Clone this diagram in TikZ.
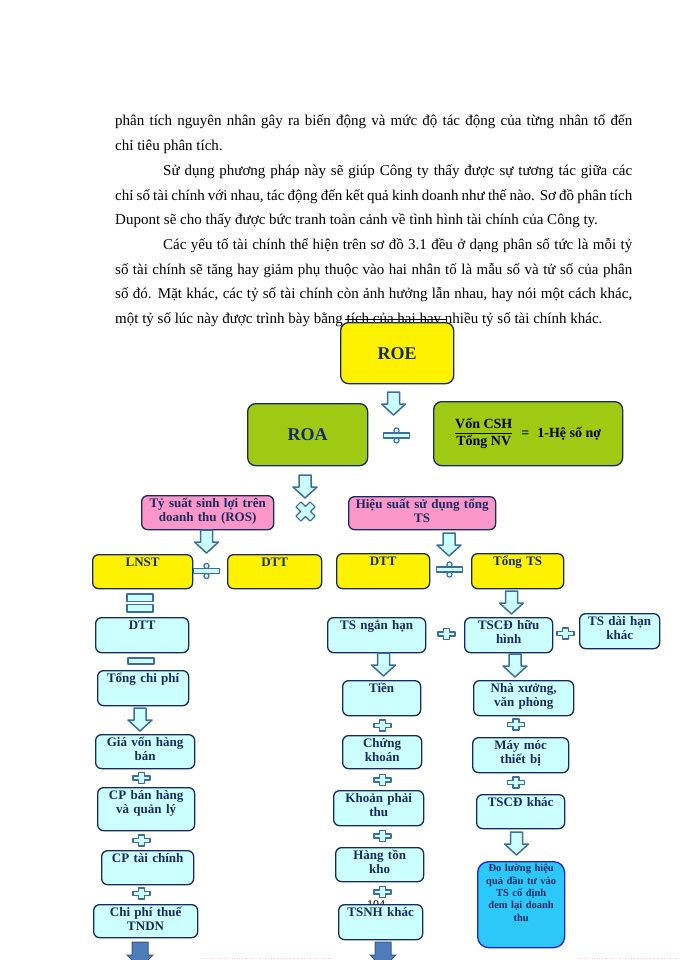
\documentclass[tikz,border=0pt]{standalone}
\usepackage{fontspec}
\setmainfont{Liberation Serif}
\usetikzlibrary{positioning}
\definecolor{navy}{RGB}{25,42,96}
\definecolor{steel}{RGB}{62,108,158}
\definecolor{icecyan}{RGB}{204,255,255}
\definecolor{roagreen}{RGB}{158,202,20}
\definecolor{pinkbox}{RGB}{250,150,200}
\definecolor{skyfill}{RGB}{45,200,250}
\definecolor{deepblue}{RGB}{30,30,225}
\definecolor{darkarrow}{RGB}{79,125,185}
\definecolor{darksteel}{RGB}{55,90,140}
\definecolor{faintpink}{RGB}{250,200,230}
\tikzset{
  frame/.style={draw=navy,line width=1.3pt,rounded corners=6pt,anchor=north west},
  box/.style={frame,inner xsep=2pt,inner ysep=0pt,align=center,text=navy,
    font=\fontsize{13}{14}\selectfont\bfseries,text height=12pt},
  ybox/.style={box,fill=yellow},
  pbox/.style={box,fill=pinkbox},
  cbox/.style={box,fill=icecyan},
  sz/.code 2 args={\pgfmathsetmacro\bxw{#1-4}\pgfmathsetmacro\bxd{#2-12}%
    \tikzset{text width=\bxw pt,text depth=\bxd pt}},
  sign/.style={draw=steel,fill=icecyan,line width=1.2pt,line join=round},
  pics/plus/.style={code={\draw[sign] (-3,-5.5)--(3,-5.5)--(3,-2)--(8.5,-2)--(8.5,2)--(3,2)
    --(3,5.5)--(-3,5.5)--(-3,2)--(-8.5,2)--(-8.5,-2)--(-3,-2)--cycle;}},
  pics/minus/.style={code={\draw[sign] (-13,-3) rectangle (13,3);}},
  pics/equal/.style={code={\draw[sign] (-13,-9) rectangle (13,-1.5);
    \draw[sign] (-13,1.5) rectangle (13,9);}},
  pics/divide/.style={code={\draw[sign] (0,-5) circle (2.6pt);\draw[sign] (0,5) circle (2.6pt);
    \draw[sign] (-13,-2.5) rectangle (13,2.5);}},
  pics/times/.style={code={\draw[sign,rotate=45] (-3.5,-10)--(3.5,-10)--(3.5,-3.5)--(10,-3.5)
    --(10,3.5)--(3.5,3.5)--(3.5,10)--(-3.5,10)--(-3.5,3.5)--(-10,3.5)--(-10,-3.5)--(-3.5,-3.5)--cycle;}},
  pics/darr/.style={code={\draw[sign,line width=1.5pt] (-6,0)--(6,0)--(6,12)--(12,12)--(0,23)
    --(-12,12)--(-6,12)--cycle;}},
  pics/dkarr/.style={code={\draw[draw=darksteel,fill=darkarrow,line width=1pt] (-8,0)--(8,0)
    --(8,13)--(13,13)--(0,26)--(-13,13)--(-8,13)--cycle;}},
}
\begin{document}
\begin{tikzpicture}[x=1pt,y=-1pt]
\useasboundingbox (0,0) rectangle (700,960);
\fill[white] (0,0) rectangle (700,960);
\clip (0,0) rectangle (700,960);
% body text above the chart
\node [name=para,anchor=base west,inner sep=0pt,font=\fontsize{15}{24.7}\selectfont] at (115,126){\vtop{%
\hbox to 517pt{phân tích nguyên nhân gây ra biến động và mức độ tác động của từng nhân tố đến}
\hbox to 517pt{chỉ tiêu phân tích.\hfil}
\hbox to 517pt{\kern48pt Sử dụng phương pháp này sẽ giúp Công ty thấy được sự tương tác giữa các}
\hbox to 517pt{chỉ số tài chính với nhau, tác động đến kết quả kinh doanh như thế nào. Sơ đồ phân tích}
\hbox to 517pt{Dupont sẽ cho thấy được bức tranh toàn cảnh về tình hình tài chính của Công ty.\hfil}
\hbox to 517pt{\kern48pt Các yếu tố tài chính thể hiện trên sơ đồ 3.1 đều ở dạng phân số tức là mỗi tỷ}
\hbox to 517pt{số tài chính sẽ tăng hay giảm phụ thuộc vào hai nhân tố là mẫu số và tử số của phân}
\hbox to 517pt{số đó. Mặt khác, các tỷ số tài chính còn ảnh hưởng lẫn nhau, hay nói một cách khác,}
\hbox to 517pt{một tỷ số lúc này được trình bày bằng tích của hai hay nhiều tỷ số tài chính khác.\hfil}}};
\draw[line width=0.7pt] (345,319.5)--(447,319.5);
\node [name=pgno,anchor=base,font=\fontsize{12}{12}\selectfont] at (376,908){104};
% top level
\node [frame,name=roe,fill=yellow,minimum width=113pt,minimum height=61pt,rounded corners=8pt,text=navy,font=\fontsize{18}{18}\selectfont\bfseries] at (340,322){ROE};
\node [frame,name=roa,fill=roagreen,minimum width=120pt,minimum height=62pt,rounded corners=8pt,text=navy,font=\fontsize{18}{18}\selectfont\bfseries] at (247,403){ROA};
\node [frame,name=vcsh,fill=roagreen,minimum width=189pt,minimum height=64pt,rounded corners=8pt,font=\fontsize{14}{16}\selectfont\bfseries] at (433,401){%
\setlength\arrayrulewidth{1pt}\begin{tabular}{@{}c@{}}Vốn CSH\\\hline Tổng NV\end{tabular}\hspace{9pt}=\hspace{8pt}1-Hệ số nợ\hspace{8pt}};
\node [pbox,name=ros,sz={132}{34}] at (141,495){Tỷ suất sinh lợi trên\\doanh thu (ROS)};
\node [pbox,name=hsts,sz={147}{33}] at (348,496){Hiệu suất sử dụng tổng\\TS};
\node [ybox,name=lnst,sz={100}{34}] at (92,554){LNST};
\node [ybox,name=dtta,sz={94}{34}] at (227,554){DTT};
\node [ybox,name=dttb,sz={93}{35}] at (336,553){DTT};
\node [ybox,name=tongts,sz={92}{35}] at (471,553){Tổng TS};
% left column
\node [cbox,name=dttc,sz={93}{35}] at (95,617){DTT};
\node [cbox,name=tongcp,sz={91}{35}] at (97,670){Tổng chi phí};
\node [cbox,name=gvhb,sz={99}{34}] at (95,734){Giá vốn hàng\\bán};
\node [cbox,name=cpbh,sz={97}{43}] at (97,787){CP bán hàng\\và quản lý};
\node [cbox,name=cptc,sz={92}{34}] at (101,850){CP tài chính};
\node [cbox,name=thue,sz={104}{33}] at (93,904){Chi phí thuế\\TNDN};
% middle column
\node [cbox,name=tsnh,sz={98}{35}] at (327,617){TS ngắn hạn};
\node [cbox,name=tien,sz={78}{35}] at (342,680){Tiền};
\node [cbox,name=ck,sz={79}{33}] at (342,735){Chứng\\khoán};
\node [cbox,name=kpt,sz={90}{35}] at (333,790){Khoản phải\\thu};
\node [cbox,name=htk,sz={88}{34}] at (335,847){Hàng tồn\\kho};
\node [cbox,name=tsnhk,sz={84}{35}] at (338,904){TSNH khác};
% right column
\node [cbox,name=tscd,sz={88}{35}] at (464,617){TSCĐ hữu\\hình};
\node [cbox,name=tsdh,sz={80}{35}] at (579,613){TS dài hạn\\khác};
\node [cbox,name=nx,sz={100}{35}] at (473,680){Nhà xưởng,\\văn phòng};
\node [cbox,name=mm,sz={96}{35}] at (472,737){Máy móc\\thiết bị};
\node [cbox,name=tscdk,sz={88}{34}] at (476,794){TSCĐ khác};
\node [box,name=dolg,fill=skyfill,draw=deepblue,rounded corners=11pt,text width=83pt,text height=10pt,text depth=76pt,font=\fontsize{10.5}{12.4}\selectfont\bfseries] at (477,861){Đo lường hiệu\\quả đầu tư vào\\TS cố định\\đem lại doanh\\thu};
% arrows and signs between the boxes
\pic at (393.5,392) {darr};
\pic at (396.5,435.5) {divide};
\pic at (305,475) {darr};
\pic at (305.5,511.5) {times};
\pic at (206.5,530) {darr};
\pic at (206.5,571) {divide};
\pic at (449,533) {darr};
\pic at (449.5,569.5) {divide};
\pic at (140,603) {equal};
\pic at (141,661) {minus};
\pic at (140,708) {darr};
\pic at (141.5,778) {plus};
\pic at (141.5,840.5) {plus};
\pic at (141.5,893.5) {plus};
\pic at (140,942) {dkarr};
\pic at (446.5,634) {plus};
\pic at (383.5,653) {darr};
\pic at (382.5,725.5) {plus};
\pic at (382.5,780) {plus};
\pic at (382.5,836) {plus};
\pic at (382.5,892) {plus};
\pic at (383,942) {dkarr};
\pic at (511.5,591) {darr};
\pic at (565.5,633.5) {plus};
\pic at (515,654) {darr};
\pic at (516,724.5) {plus};
\pic at (516,782.5) {plus};
\pic at (516.5,832) {darr};
\draw[faintpink,dotted,line width=0.6pt] (203,958)--(333,958) (576,958)--(680,958);
\end{tikzpicture}
\end{document}
